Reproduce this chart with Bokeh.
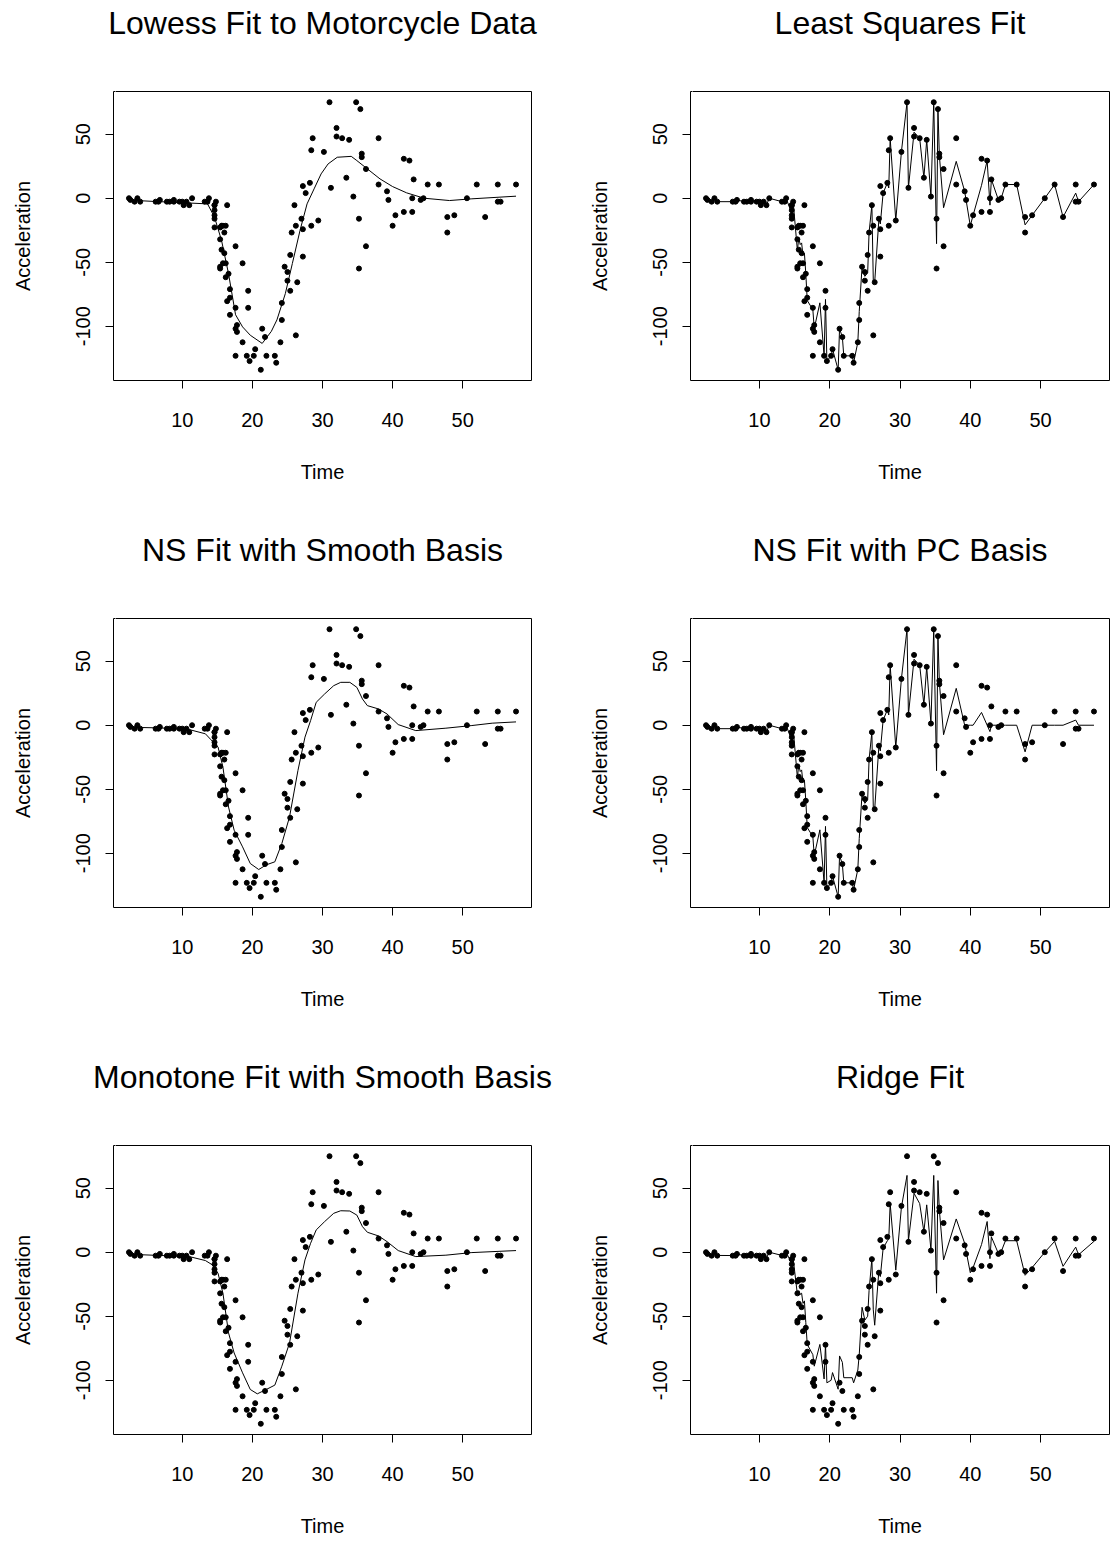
from bokeh.plotting import figure
from bokeh.layouts import column, row
from bokeh.models import FixedTicker, LinearAxis
from bokeh.embed import file_html
from bokeh.resources import INLINE

# ---- data: motorcycle crash data (time in ms, head acceleration in g) ----
times = [2.4, 2.6, 3.2, 3.6, 4.0, 6.2, 6.6, 6.8, 7.8, 8.2,
         8.8, 8.8, 9.6, 10.0, 10.2, 10.6, 11.0, 11.4, 13.2, 13.6,
         13.8, 14.6, 14.6, 14.6, 14.6, 14.6, 14.6, 14.8, 15.4, 15.4,
         15.4, 15.4, 15.6, 15.6, 15.8, 15.8, 16.0, 16.0, 16.2, 16.2,
         16.2, 16.4, 16.4, 16.6, 16.8, 16.8, 16.8, 17.6, 17.6, 17.6,
         17.6, 17.8, 17.8, 18.6, 18.6, 19.2, 19.4, 19.4, 19.6, 20.2,
         20.4, 21.2, 21.4, 21.8, 22.0, 23.2, 23.4, 24.0, 24.2, 24.2,
         24.6, 25.0, 25.0, 25.4, 25.4, 25.6, 26.0, 26.2, 26.2, 26.4,
         27.0, 27.2, 27.2, 27.2, 27.6, 28.2, 28.4, 28.4, 28.6, 29.4,
         30.2, 31.0, 31.2, 32.0, 32.0, 32.8, 33.4, 33.8, 34.4, 34.8,
         35.2, 35.2, 35.4, 35.6, 35.6, 36.2, 36.2, 38.0, 38.0, 39.2,
         39.4, 40.0, 40.4, 41.6, 41.6, 42.4, 42.8, 42.8, 43.0, 44.0,
         44.4, 45.0, 46.6, 47.8, 47.8, 48.8, 50.6, 52.0, 53.2, 55.0,
         55.0, 55.4, 57.6]
accel = [0.0, -1.3, -2.7, 0.0, -2.7, -2.7, -2.7, -1.3, -2.7, -2.7,
         -1.3, -2.7, -2.7, -2.7, -5.4, -2.7, -5.4, 0.0, -2.7, -2.7,
         0.0, -13.3, -5.4, -5.4, -9.3, -16.0, -22.8, -2.7, -22.8, -32.1,
         -53.5, -54.9, -40.2, -21.5, -21.5, -50.8, -42.9, -26.8, -21.5, -50.8,
         -61.7, -5.4, -80.4, -59.0, -71.0, -91.1, -77.7, -37.5, -85.6, -123.1,
         -101.9, -99.1, -104.4, -112.5, -50.8, -123.1, -85.6, -72.3, -127.2, -123.1,
         -117.9, -134.0, -101.9, -108.4, -123.1, -123.1, -128.5, -112.5, -95.1, -81.8,
         -53.5, -64.4, -57.6, -72.3, -44.3, -26.8, -5.4, -107.1, -21.5, -65.6,
         -16.0, -45.6, -24.2, 9.5, 4.0, 12.0, -21.5, 37.5, 46.9, -17.4,
         36.2, 75.0, 8.1, 54.9, 48.2, 46.9, 16.0, 45.6, 1.3, 75.0,
         -16.0, -54.9, 69.6, 34.8, 32.1, -37.5, 22.8, 46.9, 10.7, 5.4,
         -1.3, -21.5, -13.3, 30.8, -10.7, 29.4, 0.0, -10.7, 14.7, -1.3,
         0.0, 10.7, 10.7, -26.8, -14.7, -13.3, 0.0, 10.7, -14.7, -2.7,
         10.7, -2.7, 10.7]

# unique design times (for the per-time fits)
fit_times = [2.4, 2.6, 3.2, 3.6, 4.0, 6.2, 6.6, 6.8, 7.8, 8.2,
             8.8, 9.6, 10.0, 10.2, 10.6, 11.0, 11.4, 13.2, 13.6, 13.8,
             14.6, 14.8, 15.4, 15.6, 15.8, 16.0, 16.2, 16.4, 16.6, 16.8,
             17.6, 17.8, 18.6, 19.2, 19.4, 19.6, 20.2, 20.4, 21.2, 21.4,
             21.8, 22.0, 23.2, 23.4, 24.0, 24.2, 24.6, 25.0, 25.4, 25.6,
             26.0, 26.2, 26.4, 27.0, 27.2, 27.6, 28.2, 28.4, 28.6, 29.4,
             30.2, 31.0, 31.2, 32.0, 32.8, 33.4, 33.8, 34.4, 34.8, 35.2,
             35.4, 35.6, 36.2, 38.0, 39.2, 39.4, 40.0, 40.4, 41.6, 42.4,
             42.8, 43.0, 44.0, 44.4, 45.0, 46.6, 47.8, 48.8, 50.6, 52.0,
             53.2, 55.0, 55.4, 57.6]

# least squares fit (value at each design time)
ls_fit = [0.0, -1.3, -2.7, 0.0, -2.7, -2.7, -2.7, -1.3, -2.7, -2.7,
          -2.0, -2.7, -2.7, -5.4, -2.7, -5.4, 0.0, -2.7, -2.7, 0.0,
          -12.0, -2.7, -40.8, -30.9, -36.2, -34.9, -44.7, -42.9, -59.0, -79.9,
          -87.0, -101.8, -81.7, -123.1, -79.0, -127.2, -123.1, -117.9, -134.0, -101.9,
          -108.4, -123.1, -123.1, -128.5, -112.5, -88.5, -53.5, -61.0, -58.3, -26.8,
          -5.4, -64.3, -65.6, -16.0, -20.1, 4.0, 12.0, 8.0, 46.9, -17.4,
          36.2, 75.0, 8.1, 51.6, 46.9, 16.0, 45.6, 1.3, 75.0, -35.5,
          69.6, 33.5, -7.4, 28.8, 5.4, -1.3, -21.5, -13.3, 10.1, 29.4,
          -5.4, 14.7, -1.3, 0.0, 10.7, 10.7, -20.8, -13.3, 0.0, 10.7,
          -14.7, 4.0, -2.7, 10.7]

# NS fit with principal-component basis
pc_fit = [0.0, -1.3, -2.7, 0.0, -2.7, -2.7, -2.7, -1.3, -2.7, -2.7,
          -2.0, -2.7, -2.7, -5.4, -2.7, -5.4, 0.0, -2.7, -2.7, 0.0,
          -12.0, -2.7, -40.8, -30.9, -36.2, -34.9, -44.7, -42.9, -59.0, -79.9,
          -87.0, -101.8, -81.7, -123.1, -79.0, -127.2, -123.1, -117.9, -134.0, -101.9,
          -108.4, -123.1, -123.1, -128.5, -112.5, -88.5, -53.5, -61.0, -58.3, -26.8,
          -5.4, -64.3, -65.6, -16.0, -20.1, 4.0, 12.0, 8.0, 46.9, -17.4,
          36.2, 75.0, 8.1, 51.6, 46.9, 16.0, 45.6, 1.3, 75.0, -35.5,
          69.6, 33.5, -7.4, 28.8, 0.0, 0.0, 0.0, 0.0, 10.0, 0.0,
          -5.0, 0.0, 0.0, 0.0, 0.0, 0.0, -20.8, 0.0, 0.0, 0.0,
          0.0, 4.0, 0.0, 0.0]

# ridge fit
ridge_fit = [-1.0, -1.5, -2.2, -1.5, -2.5, -2.6, -2.6, -1.5, -2.6, -2.6,
             -2.0, -2.6, -2.7, -4.5, -3.0, -4.5, 0.0, -2.5, -2.5, 0.0,
             -9.0, -5.0, -33.0, -30.0, -33.0, -32.0, -40.0, -38.0, -55.0, -72.0,
             -80.0, -89.0, -72.0, -99.0, -72.0, -102.0, -100.0, -94.0, -107.0, -81.0,
             -86.0, -98.0, -98.0, -102.0, -92.0, -80.0, -43.0, -53.0, -50.0, -30.0,
             -5.0, -45.0, -57.0, -14.0, -19.0, 3.0, 9.0, 10.0, 38.0, -14.0,
             35.0, 60.0, 9.0, 46.0, 38.0, 16.0, 37.0, 2.0, 60.0, -32.0,
             56.0, 33.0, -6.0, 26.0, 7.0, 1.0, -16.0, -12.0, 6.0, 24.0,
             -5.0, 12.0, -1.0, 0.5, 9.0, 9.0, -18.0, -12.0, 0.0, 8.5,
             -11.0, 4.0, -2.0, 8.5]

# lowess fit
lowess_t = [2.4, 6.0, 10.0, 13.6, 14.6, 15.6, 16.6, 17.6, 18.6, 19.7,
            21.4, 22.7, 23.5, 24.7, 25.7, 26.8, 27.8, 28.8, 29.8, 30.8,
            32.1, 34.1, 34.9, 36.4, 38.2, 40.0, 42.0, 44.5, 48.1, 51.2,
            57.6]
lowess_y = [-1.5, -2.5, -3.5, -4.4, -14.8, -33.0, -59.0, -91.0, -100.5, -107.0,
            -113.4, -104.0, -95.0, -74.5, -51.0, -25.0, -4.4, 7.3, 19.0, 26.8,
            32.0, 32.7, 29.4, 22.9, 15.1, 9.1, 4.2, 0.0, -1.8, -0.5,
            1.6]

# NS fit with smooth basis
ns_t = [2.4, 6.9, 11.0, 13.3, 14.1, 15.1, 15.8, 16.6, 17.4, 18.6,
        19.7, 20.9, 22.0, 23.2, 24.2, 25.3, 26.5, 27.5, 28.3, 29.1,
        30.3, 31.6, 32.6, 33.9, 34.9, 35.7, 36.4, 38.0, 39.2, 40.8,
        43.3, 47.6, 51.2, 54.2, 57.6]
ns_y = [-1.6, -2.1, -3.4, -6.7, -11.4, -17.0, -32.7, -63.9, -82.0, -95.0,
        -108.0, -112.7, -109.0, -106.7, -92.4, -71.6, -35.3, -9.3, 3.6, 17.9,
        24.4, 30.9, 33.5, 33.5, 29.6, 20.5, 15.3, 12.7, 8.8, 0.5,
        -4.2, -2.3, -0.3, 1.6, 2.6]

# monotone fit with smooth basis
mono_t = [2.4, 11.0, 13.3, 14.3, 15.1, 15.8, 16.6, 17.4, 18.6, 19.7,
          20.7, 21.8, 23.2, 24.2, 25.3, 26.5, 27.5, 28.3, 29.1, 30.3,
          31.6, 32.6, 33.9, 34.9, 35.7, 36.4, 38.0, 39.2, 40.8, 43.3,
          47.6, 51.2, 57.6]
mono_y = [-1.6, -3.4, -6.5, -9.9, -16.4, -32.0, -63.0, -78.7, -94.2, -107.2,
          -110.6, -107.7, -103.8, -89.0, -70.9, -32.0, -6.0, 7.0, 17.4, 23.9,
          30.4, 32.4, 32.2, 29.0, 20.0, 15.6, 12.7, 8.3, 1.3, -3.4,
          -2.3, -0.3, 1.3]

titles = ["Lowess Fit to Motorcycle Data", "Least Squares Fit",
          "NS Fit with Smooth Basis", "NS Fit with PC Basis",
          "Monotone Fit with Smooth Basis", "Ridge Fit"]
x_ticks = [10, 20, 30, 40, 50]
y_ticks = [-100, -50, 0, 50]

FONT = "Liberation Sans"
X0, X1 = 0.192, 59.808
Y0, Y1 = -142.36, 83.36
FRAME_H = 289


def panel(title, fit_x, fit_y, left_col, last_row):
    h = 490 if last_row else 527
    w = 556
    bl = 113 if left_col else 134
    fw = 418 if left_col else 419
    p = figure(width=w, height=h, output_backend="svg", toolbar_location=None,
               x_range=(X0, X1), y_range=(Y0, Y1),
               min_border_left=bl, min_border_right=w - bl - fw,
               min_border_top=91, min_border_bottom=h - 91 - FRAME_H,
               background_fill_color="white", border_fill_color="white")
    p.title.visible = False
    # main title drawn as the label of a bare top axis, so it can sit well above the box
    top = LinearAxis(ticker=FixedTicker(ticks=[0.5], minor_ticks=[]),
                     major_label_overrides={0.5: ""},
                     major_tick_out=50, major_tick_in=0,
                     major_tick_line_color="white", minor_tick_line_color=None,
                     axis_line_color=None, major_label_text_font_size="1px",
                     major_label_standoff=0,
                     axis_label=title, axis_label_standoff=1,
                     axis_label_text_font=FONT, axis_label_text_font_size="32px",
                     axis_label_text_font_style="normal",
                     axis_label_text_color="black")
    p.add_layout(top, "above")
    p.outline_line_color = "black"
    p.outline_line_width = 1
    p.xgrid.grid_line_color = None
    p.ygrid.grid_line_color = None
    for ax, ticks in ((p.below[0], x_ticks), (p.left[0], y_ticks)):
        ax.ticker = FixedTicker(ticks=ticks, minor_ticks=[])
        ax.major_label_overrides = {t: str(t) for t in ticks}
        ax.axis_line_color = None
        ax.major_tick_line_color = "black"
        ax.major_tick_out = 8
        ax.major_tick_in = 0
        ax.minor_tick_line_color = None
        ax.major_label_text_font = FONT
        ax.major_label_text_font_size = "20px"
        ax.major_label_text_color = "black"
        ax.axis_label_text_font = FONT
        ax.axis_label_text_font_size = "20px"
        ax.axis_label_text_font_style = "normal"
        ax.axis_label_text_color = "black"
    xa = p.below[0]
    ya = p.left[0]
    xa.axis_label = "Time"
    ya.axis_label = "Acceleration"
    xa.major_label_standoff = 24
    xa.axis_label_standoff = 31
    ya.major_label_orientation = "vertical"
    ya.major_label_standoff = 15
    ya.axis_label_standoff = 40
    p.scatter(times, accel, size=5, marker="circle", color="black")
    p.line(fit_x, fit_y, line_color="black", line_width=1)
    return p


plots = [
    panel(titles[0], lowess_t, lowess_y, True, False),
    panel(titles[1], fit_times, ls_fit, False, False),
    panel(titles[2], ns_t, ns_y, True, False),
    panel(titles[3], fit_times, pc_fit, False, False),
    panel(titles[4], mono_t, mono_y, True, True),
    panel(titles[5], fit_times, ridge_fit, False, True),
]

layout = column(row(plots[0], plots[1]), row(plots[2], plots[3]), row(plots[4], plots[5]))
open("out.html", "w").write(file_html(layout, INLINE))
